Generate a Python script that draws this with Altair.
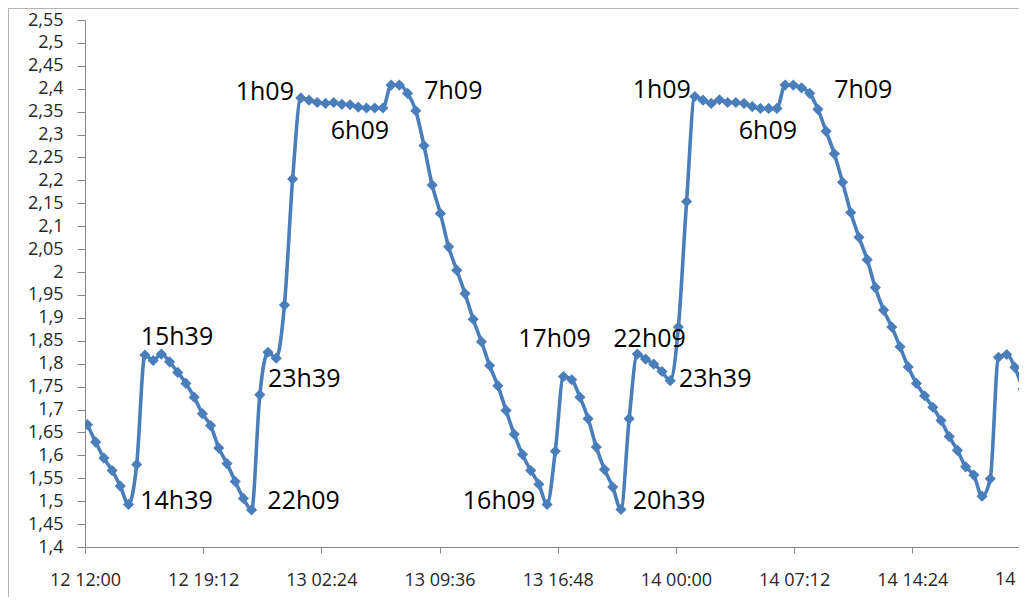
import altair as alt
import pandas as pd

# Readings every 30 minutes, starting 12 12:09
first_reading = "2013-03-12 12:09"
levels = [
    1.667, 1.629, 1.594, 1.567, 1.533, 1.493, 1.580, 1.819, 1.807, 1.821,
    1.804, 1.781, 1.757, 1.727, 1.691, 1.665, 1.616, 1.582, 1.543, 1.506,
    1.481, 1.732, 1.825, 1.812, 1.928, 2.203, 2.380, 2.375, 2.370, 2.368,
    2.370, 2.366, 2.365, 2.360, 2.358, 2.358, 2.358, 2.408, 2.408, 2.390,
    2.352, 2.276, 2.190, 2.128, 2.055, 2.004, 1.953, 1.897, 1.848, 1.796,
    1.752, 1.698, 1.646, 1.602, 1.567, 1.537, 1.493, 1.609, 1.772, 1.765,
    1.727, 1.680, 1.618, 1.569, 1.531, 1.482, 1.680, 1.821, 1.810, 1.799,
    1.783, 1.763, 1.880, 2.154, 2.383, 2.375, 2.368, 2.376, 2.370, 2.370,
    2.368, 2.361, 2.357, 2.357, 2.357, 2.408, 2.408, 2.402, 2.390, 2.355,
    2.307, 2.258, 2.196, 2.130, 2.076, 2.027, 1.966, 1.917, 1.880, 1.837,
    1.793, 1.757, 1.730, 1.705, 1.676, 1.641, 1.611, 1.575, 1.557, 1.511,
    1.549, 1.814, 1.820, 1.792, 1.745, 1.716,
]

# Annotations: text and index of the reading they belong to
label_text = ["14h39", "15h39", "22h09", "23h39", "1h09", "6h09", "7h09",
              "16h09", "17h09", "22h09", "20h39", "23h39", "1h09", "6h09", "7h09"]
label_point = [5, 7, 20, 23, 26, 36, 38, 56, 58, 68, 65, 71, 74, 84, 86]

# Axis ticks
y_ticks = [1.4, 1.45, 1.5, 1.55, 1.6, 1.65, 1.7, 1.75, 1.8, 1.85, 1.9, 1.95,
           2.0, 2.05, 2.1, 2.15, 2.2, 2.25, 2.3, 2.35, 2.4, 2.45, 2.5, 2.55]
x_tick_times = ["2013-03-12 12:00", "2013-03-12 19:12", "2013-03-13 02:24",
                "2013-03-13 09:36", "2013-03-13 16:48", "2013-03-14 00:00",
                "2013-03-14 07:12", "2013-03-14 14:24", "2013-03-14 21:36"]
x_domain = ["2013-03-12 12:00", "2013-03-14 20:54"]

# label offsets in pixels (styling)
label_dx = [48, 32, 52, 28, -36, -23, 54, -48, -9, 4, 48, 45, -33, -9, 70]
label_dy = [-3, -18, -9, 21, -6, 23, 6, -3, -38, -20, -8, -2, -7, 23, 5]

times = pd.date_range(pd.Timestamp(first_reading), periods=len(levels), freq="30min")
df = pd.DataFrame({
    "t": [t.strftime("%Y-%m-%dT%H:%M:00Z") for t in times],
    "v": levels,
})


def dt(s):
    ts = pd.Timestamp(s)
    return alt.DateTime(year=ts.year, month=ts.month, date=ts.day,
                        hours=ts.hour, minutes=ts.minute, utc=True)


def iso(s):
    return pd.Timestamp(s).strftime("%Y-%m-%dT%H:%M:00Z")


FONT = "Open Sans"
BLUE = "#4A7EBB"
AXIS_GREY = "#868686"
LABEL_COL = "#262626"

x_enc = alt.X(
    "t:T",
    scale=alt.Scale(type="utc", domain=[dt(s) for s in x_domain]),
    axis=alt.Axis(
        values=[dt(s) for s in x_tick_times],
        labelExpr="utcFormat(datum.value, '%d %H:%M')",
        title=None, grid=False, tickSize=6, labelPadding=18,
        labelFont=FONT, labelFontSize=18, labelColor=LABEL_COL,
        domainColor=AXIS_GREY, tickColor=AXIS_GREY, labelFlush=False,
        labelOverlap=False,
    ),
)
y_enc = alt.Y(
    "v:Q",
    scale=alt.Scale(domain=[1.4, 2.55], nice=False, zero=False),
    axis=alt.Axis(
        values=y_ticks,
        labelExpr="replace(toString(datum.value), '.', ',')",
        title=None, grid=False, tickSize=8, labelPadding=14,
        labelFont=FONT, labelFontSize=18, labelColor=LABEL_COL,
        domainColor=AXIS_GREY, tickColor=AXIS_GREY, labelFlush=False,
        labelOverlap=False,
    ),
)

base = alt.Chart(df)
line = base.mark_line(color=BLUE, strokeWidth=3.6, interpolate="monotone", clip=True).encode(x=x_enc, y=y_enc)
points = base.mark_point(shape="diamond", filled=True, opacity=1, color=BLUE, size=125, clip=True).encode(
    x=x_enc, y=y_enc)

layers = [line, points]
for txt, idx, ddx, ddy in zip(label_text, label_point, label_dx, label_dy):
    ldf = pd.DataFrame({"t": [df["t"][idx]], "v": [levels[idx]], "txt": [txt]})
    layers.append(
        alt.Chart(ldf).mark_text(font=FONT, fontSize=25, color="#000000",
                                 align="center", baseline="middle", dx=ddx, dy=ddy)
        .encode(x=x_enc, y=y_enc, text="txt:N")
    )

# last tick label, which falls past the visible right edge (cut off as in the source)
last_df = pd.DataFrame({"t": [iso(x_tick_times[-1])], "v": [y_ticks[0]],
                        "txt": ["14 21:36"]})
layers.append(
    alt.Chart(last_df).mark_text(font=FONT, fontSize=18, color=LABEL_COL,
                                 align="center", baseline="top", dy=24, clip=False)
    .encode(x=x_enc, y=y_enc, text="txt:N")
)

# outer chart-area border (top and left)
border_left = alt.Chart(df).mark_rule(color="#b4b4b4", strokeWidth=2).encode(
    x=alt.value(-77), y=alt.value(-12), y2=alt.value(590))
border_top = alt.Chart(df).mark_rule(color="#b4b4b4", strokeWidth=2).encode(
    y=alt.value(-12), x=alt.value(-77), x2=alt.value(1100))
layers += [border_left, border_top]

chart = alt.layer(*layers).properties(
    width=934, height=527,
    autosize=alt.AutoSizeParams(type="none"),
    padding={"left": 77, "top": 12, "right": 0, "bottom": 50},
).configure_view(stroke=None)

chart.save("out.html", embed_options={"renderer": "svg", "actions": False})
